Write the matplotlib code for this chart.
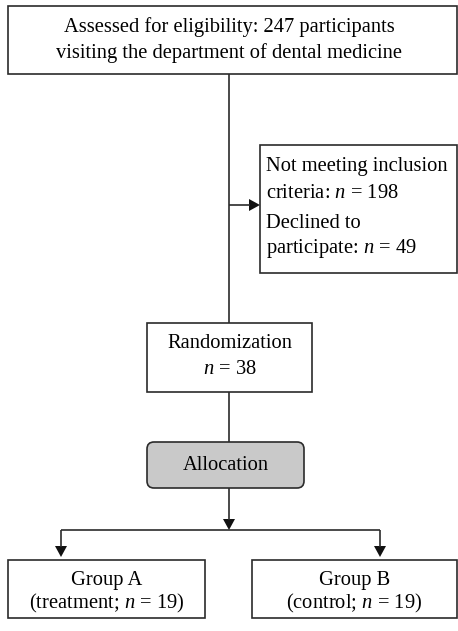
"""
CONSORT-style participant flow diagram
"""

import matplotlib
matplotlib.use("Agg")
import matplotlib.pyplot as plt
from matplotlib.patches import Rectangle, FancyBboxPatch, Polygon

plt.rcParams['font.family'] = ['Liberation Serif', 'DejaVu Serif']
plt.rcParams['mathtext.fontset'] = 'custom'
plt.rcParams['mathtext.rm'] = 'Liberation Serif'
plt.rcParams['mathtext.it'] = 'Liberation Serif:italic'

# Flow content
assessed_lines = ["Assessed for eligibility: 247 participants",
                  "visiting the department of dental medicine"]
excluded_lines = ["Not meeting inclusion", "criteria: $n$ = 198",
                  "Declined to", "participate: $n$ = 49"]
random_lines = ["Randomization", "$n$ = 38"]
alloc_label = "Allocation"
group_names = ["Group A", "Group B"]
group_arms = ["treatment", "control"]
group_n = [19, 19]

EDGE = '#2b2b2b'
FS = 14.8

fig = plt.figure(figsize=(4.58, 6.31), dpi=100)
ax = fig.add_axes([0, 0, 1, 1])
ax.set_xlim(0, 458)
ax.set_ylim(631, 0)
ax.axis('off')


def box(x0, y0, x1, y1, rounded=False, fc='white'):
    if rounded:
        p = FancyBboxPatch((x0, y0), x1 - x0, y1 - y0,
                           boxstyle="round,pad=0,rounding_size=7",
                           fc=fc, ec=EDGE, lw=1.2)
    else:
        p = Rectangle((x0, y0), x1 - x0, y1 - y0, fc=fc, ec=EDGE, lw=1.2)
    ax.add_patch(p)


def line(xs, ys):
    ax.plot(xs, ys, color=EDGE, lw=1.2, solid_capstyle='butt')


def arrow_head(x, y, direction):
    # tip at (x, y)
    if direction == 'down':
        pts = [(x, y), (x - 6, y - 11), (x + 6, y - 11)]
    else:  # right
        pts = [(x, y), (x - 11, y - 6), (x - 11, y + 6)]
    ax.add_patch(Polygon(pts, closed=True, fc='#111111', ec='none'))


# Top box
box(8, 6, 457, 74)
ax.text(229, 27, assessed_lines[0], ha='center', va='center', fontsize=FS)
ax.text(229, 53, assessed_lines[1], ha='center', va='center', fontsize=FS)

# Main vertical spine
line([229, 229], [74, 323])

# Exclusion branch
line([229, 250], [205, 205])
arrow_head(260, 205, 'right')
box(260, 145, 457, 273)
for txt, yy in zip(excluded_lines, [167, 193, 223, 249]):
    ax.text(266, yy, txt, ha='left', va='center', fontsize=FS)

# Randomization
box(147, 323, 312, 392)
ax.text(229.5, 344, random_lines[0], ha='center', va='center', fontsize=FS)
ax.text(229.5, 370, random_lines[1], ha='center', va='center', fontsize=FS)
line([229, 229], [392, 442])

# Allocation
box(147, 442, 304, 488, rounded=True, fc='#c9c9c9')
ax.text(225.5, 465, alloc_label, ha='center', va='center', fontsize=FS)

# Split to groups
line([229, 229], [488, 520])
arrow_head(229, 530, 'down')
line([61, 380], [530, 530])
line([61, 61], [530, 547])
line([380, 380], [530, 547])
arrow_head(61, 557, 'down')
arrow_head(380, 557, 'down')

group_boxes = [(8, 205), (252, 457)]
for (x0, x1), name, arm, n in zip(group_boxes, group_names, group_arms, group_n):
    box(x0, 560, x1, 618)
    cx = (x0 + x1) / 2
    ax.text(cx, 580, name, ha='center', va='center', fontsize=FS)
    ax.text(cx, 603, f"({arm}; $n$ = {n})", ha='center', va='center', fontsize=FS)

fig.savefig("out.png", dpi=100, facecolor='white')
